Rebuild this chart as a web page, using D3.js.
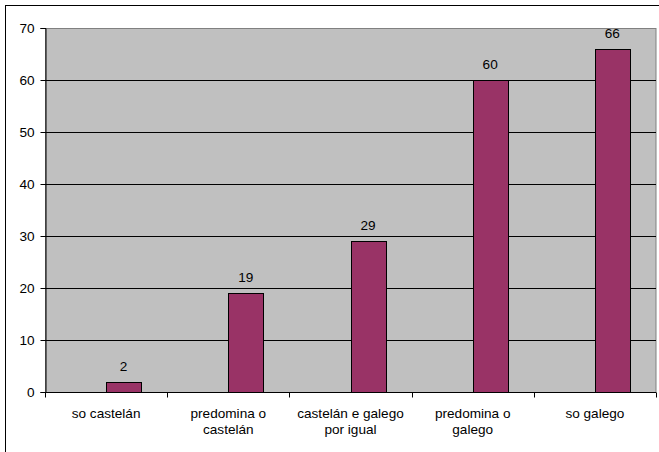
<!DOCTYPE html>
<meta charset="utf-8">
<style>
  body { margin: 0; background: #fff; }
  svg { display: block; font-family: "Liberation Sans", Arial, sans-serif; }
  .axis text { font-size: 13.6px; fill: #000; }
  .grid line { stroke: #000; stroke-width: 1px; }
  .bar { fill: #993366; stroke: #000; stroke-width: 1px; }
  .val { font-size: 13.6px; text-anchor: middle; }
</style>
<body>
<script src="https://cdn.jsdelivr.net/npm/d3@7"></script>
<script>

  // chart data
  var categories = [["so castelán"], ["predomina o", "castelán"], ["castelán e galego", "por igual"], ["predomina o", "galego"], ["so galego"]];
  var values = [2, 19, 29, 60, 66];
  var yTicks = [0, 10, 20, 30, 40, 50, 60, 70];

  var W = 659, H = 452;
  var plot = {left: 45, top: 28, right: 656, bottom: 392};

  var svg = d3.select("body").append("svg")
    .attr("width", W)
    .attr("height", H);

  // outer frame (cut off at right and bottom)
  svg.append("rect")
    .attr("x", 5.5).attr("y", 5.5)
    .attr("width", W).attr("height", H)
    .attr("fill", "#fff")
    .attr("stroke", "#000");

  var x = d3.scaleBand()
    .domain(d3.range(categories.length))
    .range([plot.left, plot.right])
    .padding(0);

  var y = d3.scaleLinear()
    .domain([0, 70])
    .range([plot.bottom, plot.top]);

  // bar occupies the right half of a two-slot group (first slot empty)
  var bw = x.bandwidth() / 3.5;
  var x1 = d3.scaleBand()
    .domain(["empty", "value"])
    .range([x.bandwidth() / 2 - bw, x.bandwidth() / 2 + bw]);

  // plot area
  svg.append("rect")
    .attr("x", plot.left + 0.5).attr("y", plot.top + 0.5)
    .attr("width", plot.right - plot.left - 0.5)
    .attr("height", plot.bottom - plot.top)
    .attr("fill", "#c0c0c0")
    .attr("stroke", "#808080");

  // gridlines
  svg.append("g")
    .attr("class", "grid")
    .selectAll("line")
    .data(yTicks.slice(1, -1))
    .enter().append("line")
    .attr("x1", plot.left).attr("x2", plot.right)
    .attr("y1", function(d) { return Math.round(y(d)) + 0.5; })
    .attr("y2", function(d) { return Math.round(y(d)) + 0.5; });

  // bars
  svg.append("g")
    .selectAll("rect")
    .data(values)
    .enter().append("rect")
    .attr("class", "bar")
    .attr("x", function(d, i) { return Math.round(x(i) + x1("value")) + 0.5; })
    .attr("y", function(d) { return Math.round(y(d)) + 0.5; })
    .attr("width", Math.round(x1.bandwidth()))
    .attr("height", function(d) { return Math.round(y(0)) - Math.round(y(d)); });

  // value labels
  svg.append("g")
    .selectAll("text")
    .data(values)
    .enter().append("text")
    .attr("class", "val")
    .attr("x", function(d, i) { return x(i) + x1("value") + x1.bandwidth() / 2; })
    .attr("y", function(d) { return y(d) - 11; })
    .text(function(d) { return d; });

  // y axis
  var yAxis = svg.append("g")
    .attr("class", "axis")
    .attr("transform", "translate(" + (plot.left + 0.5) + ",0)")
    .call(d3.axisLeft(y).tickValues(yTicks).tickSize(5).tickPadding(6));
  yAxis.select(".domain").attr("stroke", "#000");
  yAxis.selectAll(".tick line").attr("stroke", "#000");

  // x axis
  var xAxis = svg.append("g")
    .attr("class", "axis")
    .attr("transform", "translate(0," + (plot.bottom + 0.5) + ")");
  xAxis.append("line")
    .attr("x1", plot.left).attr("x2", plot.right)
    .attr("stroke", "#000");
  xAxis.selectAll(".xtick")
    .data(d3.range(categories.length + 1))
    .enter().append("line")
    .attr("x1", function(i) { return Math.round(plot.left + i * x.bandwidth()) + 0.5; })
    .attr("x2", function(i) { return Math.round(plot.left + i * x.bandwidth()) + 0.5; })
    .attr("y1", 0).attr("y2", 5)
    .attr("stroke", "#000");

  var labels = xAxis.selectAll(".xlabel")
    .data(categories)
    .enter().append("text")
    .attr("text-anchor", "middle")
    .attr("transform", function(d, i) { return "translate(" + (x(i) + x.bandwidth() / 2) + ",25)"; });
  labels.selectAll("tspan")
    .data(function(d) { return d; })
    .enter().append("tspan")
    .attr("x", 0)
    .attr("y", function(d, j) { return j * 16.5; })
    .text(function(d) { return d; });

</script>
</body>
